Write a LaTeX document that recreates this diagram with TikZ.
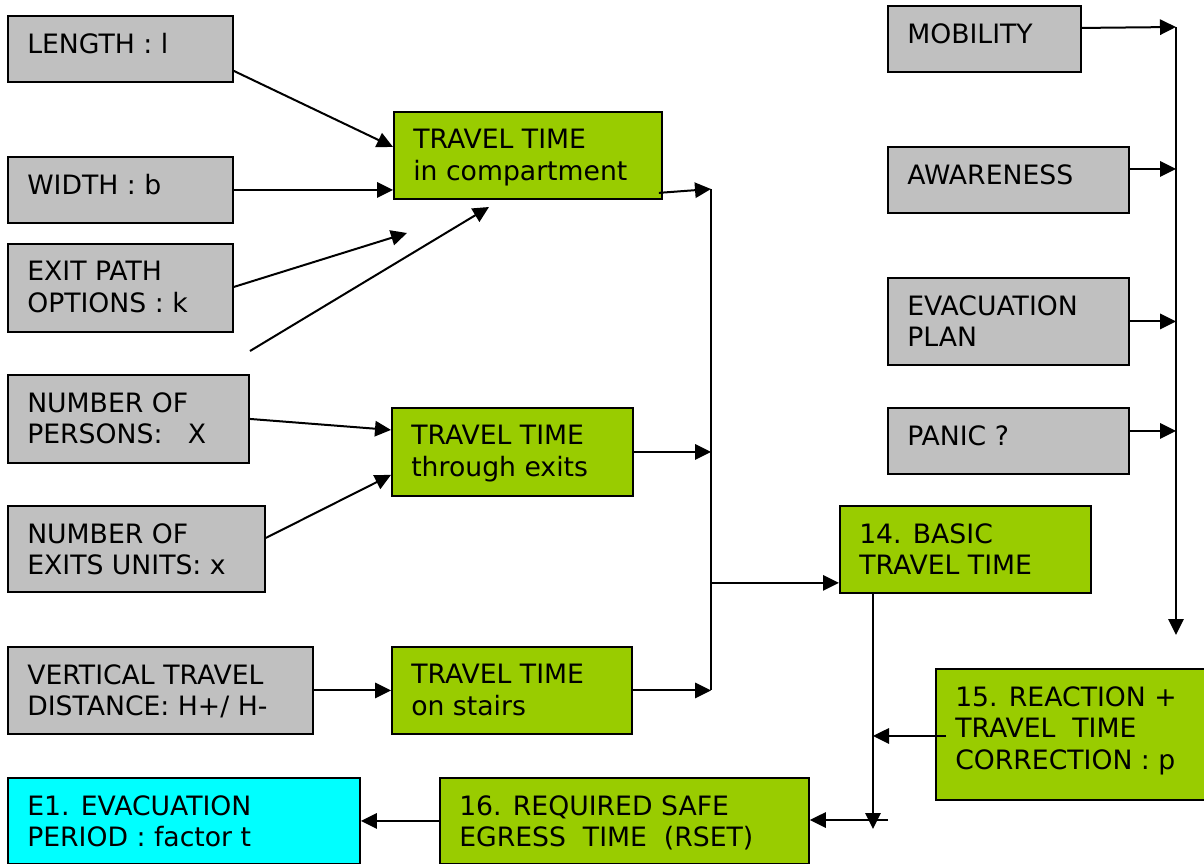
\documentclass[tikz,border=0pt]{standalone}
\usepackage{fontspec}
\setmainfont{DejaVu Sans}
\usetikzlibrary{arrows.meta,calc}

\definecolor{boxgray}{HTML}{C0C0C0}
\definecolor{boxgreen}{HTML}{99CC00}
\definecolor{boxcyan}{HTML}{00FFFF}

\tikzset{
  flowbox/.style={draw=black, line width=1.4pt, rectangle, inner sep=0pt, anchor=north west},
  inbox/.style={flowbox, fill=boxgray},
  calcbox/.style={flowbox, fill=boxgreen},
  resultbox/.style={flowbox, fill=boxcyan},
  boxtext/.style={anchor=north west, inner sep=0pt, align=left,
                  font=\fontsize{20}{23.8}\selectfont},
  conn/.style={line width=1.5pt},
  arr/.style={conn, -{Triangle[length=12pt,width=11.5pt]}},
}

% box: name, style, left, top, right, bottom, text
\newcommand{\drawbox}[7]{%
  \node[#2, minimum width={(#5-#3)*0.75pt}, minimum height={(#6-#4)*0.75pt}] (#1) at (#3,#4) {};
  \node[boxtext] (#1-text) at ($(#1.north west)+(20,18)$) {#7};
}

\begin{document}
\begin{tikzpicture}[x=0.75pt, y=-0.75pt]
\clip (0,0) rectangle (1204,864);

% input data
\drawbox{len}{inbox}{7}{15}{232}{81}{LENGTH : l}
\drawbox{wid}{inbox}{7}{156}{232}{222}{WIDTH : b}
\drawbox{exit}{inbox}{7}{243}{232}{331}{EXIT PATH\\OPTIONS : k}
\drawbox{pers}{inbox}{7}{374}{248}{462}{NUMBER OF\\PERSONS:\ \ \ X}
\drawbox{units}{inbox}{7}{505}{264}{591}{NUMBER OF\\EXITS UNITS: x}
\drawbox{vert}{inbox}{7}{646}{312}{733}{VERTICAL TRAVEL\\DISTANCE: H+/ H-}

% partial travel times
\drawbox{ttc}{calcbox}{393}{111}{661}{198}{TRAVEL TIME\\in compartment}
\drawbox{tte}{calcbox}{391}{407}{632}{495}{TRAVEL TIME\\through exits}
\drawbox{tts}{calcbox}{391}{646}{631}{733}{TRAVEL TIME\\on stairs}

% human factors
\drawbox{mob}{inbox}{887}{5}{1080}{71}{MOBILITY}
\drawbox{awa}{inbox}{887}{146}{1128}{212}{AWARENESS}
\drawbox{evp}{inbox}{887}{277}{1128}{364}{EVACUATION\\PLAN}
\drawbox{pan}{inbox}{887}{407}{1128}{473}{PANIC ?}

% results
\drawbox{b14}{calcbox}{839}{505}{1090}{592}{14. BASIC\\TRAVEL TIME}
\drawbox{b15}{calcbox}{935}{668}{1208}{799}{15. REACTION +\\TRAVEL\ \ TIME\\CORRECTION : p}
\drawbox{b16}{calcbox}{439}{777}{808}{863}{16. REQUIRED SAFE\\EGRESS\ \ TIME\ \ (RSET)}
\drawbox{e1}{resultbox}{7}{777}{359}{863}{E1. EVACUATION\\PERIOD : factor t}

% inputs to the travel time in the compartment
\draw[arr] ($(len.east)+(0,22)$) -- ($(ttc.west)+(0,-8.5)$);
\draw[arr] (wid.east) -- (wid.east -| ttc.west);
\coordinate (exitTip) at (407,233);
\draw[arr] ($(exit.east)+(0,-1)$) -- (exitTip);
\coordinate (loneStart) at (250,351);
\coordinate (loneTip) at (489,207);
\draw[arr] (loneStart) -- (loneTip);

% inputs to the travel time through exits and on stairs
\draw[arr] (pers.east) -- ($(tte.west)+(0,-22)$);
\draw[arr] ($(units.east)+(0,-11)$) -- ($(tte.west)+(0,23)$);
\draw[arr] (vert.east) -- (tts.west);

% collecting bus towards the basic travel time
\coordinate (busTop) at (711,189);
\coordinate (busBot) at (711,690);
\draw[arr] ($(ttc.south east)+(-4,-7)$) -- (busTop);
\draw[arr] (tte.east) -- (tte.east -| busTop);
\draw[arr] (tts.east) -- (tts.east -| busTop);
\draw[conn] (busTop) -- (busBot);
\coordinate (b14in) at ($(b14.south west)+(0,-11)$);
\draw[arr] (busTop |- b14in) -- (b14in);

% human factors bus
\coordinate (rbusTop) at (1176,27);
\coordinate (rbusEnd) at (1176,635);
\draw[arr] ($(mob.east)+(0,-11)$) -- (rbusTop);
\draw[arr] ($(awa.east)+(0,-11)$) coordinate (awaOut) -- (awaOut -| rbusTop);
\draw[arr] (evp.east) -- (evp.east -| rbusTop);
\draw[arr] ($(pan.east)+(0,-10)$) coordinate (panOut) -- (panOut -| rbusTop);
\draw[arr] (rbusTop) -- (rbusEnd);

% combination into the required safe egress time
\coordinate (b14out) at ($(b14.south west)+(34,0)$);
\coordinate (dropEnd) at (873,829);
\draw[arr] (b14out) -- (dropEnd);
\coordinate (corrStart) at ($(b15.west)+(11,1.5)$);
\draw[arr] (corrStart) -- (corrStart -| b14out);
\coordinate (feedStart) at (888,820);
\draw[arr] (feedStart) -- (feedStart -| b16.east);
\draw[arr] (b16.west) -- (e1.east);
\end{tikzpicture}
\end{document}
